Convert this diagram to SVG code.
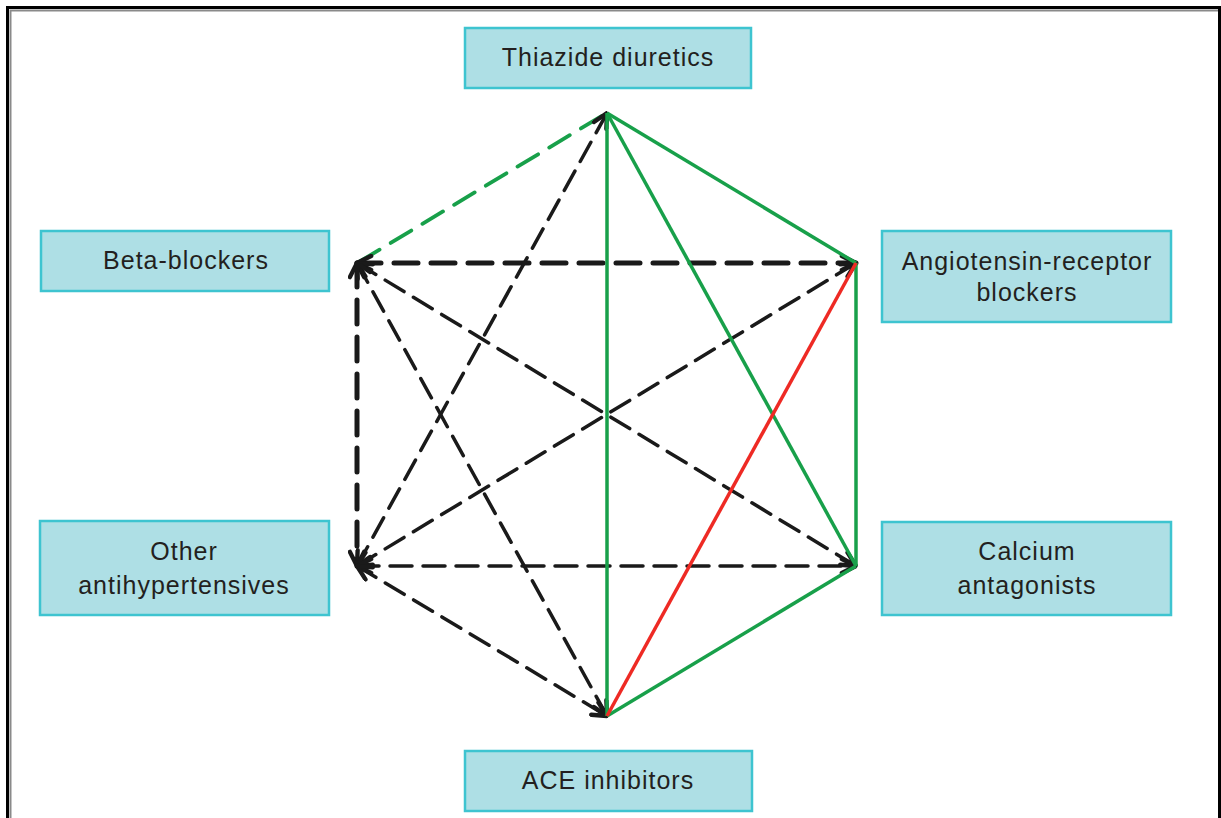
<svg xmlns="http://www.w3.org/2000/svg" width="1221" height="818" viewBox="0 0 1221 818">
<style>
.box{fill:#aedfe5;stroke:#3ec4d0;stroke-width:2.5}
.lbl{font-family:"Liberation Sans",Arial,sans-serif;font-size:25px;fill:#231f20;text-anchor:middle;letter-spacing:1px}
.g{stroke:#18a04a;stroke-width:3.5;fill:none}
.r{stroke:#ee2a24;stroke-width:3.5;fill:none}
.bd{stroke:#1a1a1a;stroke-width:3.5;fill:none;stroke-dasharray:22 11;stroke-linecap:round;marker-start:url(#ah);marker-end:url(#ah)}
.bdt{stroke:#1a1a1a;stroke-width:5;fill:none;stroke-dasharray:24 13;stroke-linecap:round;marker-start:url(#ah);marker-end:url(#ah)}
.gd{stroke:#18a04a;stroke-width:3.8;fill:none;stroke-dasharray:24 13;stroke-linecap:round}
</style>
<defs>
<marker id="ah" viewBox="0 0 14 14" refX="13" refY="7" markerWidth="18" markerHeight="18" markerUnits="userSpaceOnUse" orient="auto-start-reverse">
<path d="M2,1.5 L13,7 L2,12.5" fill="none" stroke="#1a1a1a" stroke-width="3.4" stroke-linecap="round" stroke-linejoin="round"/>
</marker>
</defs>
<rect x="0" y="0" width="1221" height="818" fill="#ffffff"/>
<path d="M7.5,830 V7.5 H1219.5 V830" fill="none" stroke="#000" stroke-width="3"/>
<path d="M10.5,830 V10.5 H1218" fill="none" stroke="#8a8a8a" stroke-width="2"/>
<g id="connectors">
<line class="gd" x1="359" y1="262" x2="605" y2="114"/>
<line class="bdt" x1="357" y1="263" x2="856" y2="263"/>
<line class="bdt" x1="357" y1="263" x2="357" y2="566"/>
<line class="bd" x1="357" y1="263" x2="856" y2="566"/>
<line class="bd" x1="357" y1="263" x2="607" y2="716"/>
<line class="bd" x1="357" y1="566" x2="607" y2="113"/>
<line class="bd" x1="357" y1="566" x2="856" y2="263"/>
<line class="bd" x1="357" y1="566" x2="856" y2="566"/>
<line class="bd" x1="357" y1="566" x2="607" y2="716"/>
<line class="g" x1="607" y1="113" x2="856" y2="263"/>
<line class="g" x1="607" y1="113" x2="856" y2="566"/>
<line class="g" x1="607" y1="113" x2="607" y2="716"/>
<line class="g" x1="856" y1="263" x2="856" y2="566"/>
<line class="g" x1="856" y1="566" x2="607" y2="716"/>
<line class="r" x1="856" y1="263" x2="607" y2="716"/>
</g>
<g id="thiazide">
<rect class="box" x="465" y="28" width="286" height="60"/>
<text class="lbl" x="608" y="66">Thiazide diuretics</text>
</g>
<g id="beta">
<rect class="box" x="41" y="231" width="288" height="60"/>
<text class="lbl" x="186" y="269">Beta-blockers</text>
</g>
<g id="arb">
<rect class="box" x="882" y="231" width="289" height="91"/>
<text class="lbl" x="1027" y="270">Angiotensin-receptor</text>
<text class="lbl" x="1027" y="301">blockers</text>
</g>
<g id="other">
<rect class="box" x="40" y="521" width="289" height="94"/>
<text class="lbl" x="184" y="560">Other</text>
<text class="lbl" x="184" y="594">antihypertensives</text>
</g>
<g id="calcium">
<rect class="box" x="882" y="522" width="289" height="93"/>
<text class="lbl" x="1027" y="560">Calcium</text>
<text class="lbl" x="1027" y="594">antagonists</text>
</g>
<g id="ace">
<rect class="box" x="465" y="751" width="287" height="60"/>
<text class="lbl" x="608" y="789">ACE inhibitors</text>
</g>
</svg>
